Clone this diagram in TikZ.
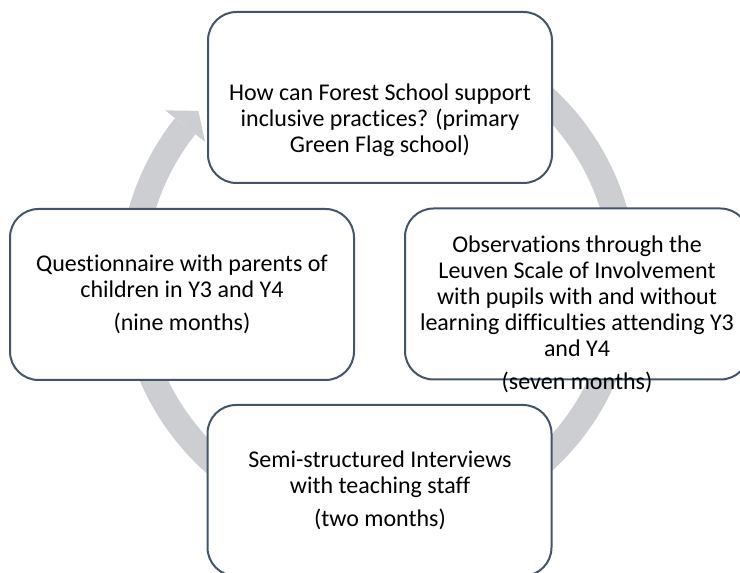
\documentclass[tikz,border=0pt]{standalone}
\usepackage{fontspec}
\setmainfont{Carlito}[Ligatures=NoCommon]
\usetikzlibrary{calc}
\definecolor{ringgrey}{RGB}{205,206,210}
\definecolor{boxline}{RGB}{68,84,106}
\begin{document}
\begin{tikzpicture}[x=1pt,y=1pt,
  box/.style={draw=boxline, line width=2pt, fill=white, rounded corners=28.5pt,
    minimum width=344pt, minimum height=171pt, inner sep=0pt},
  txt/.style={anchor=base, inner sep=0pt, font=\fontsize{24}{26}\selectfont},
  ring/.style={draw=ringgrey, line width=26pt},
  head/.style={fill=ringgrey, draw=none}]
\useasboundingbox (0,0) rectangle (740,573);
\clip (0,0) rectangle (740,573);
\coordinate (c) at (378,294);
% circular arrow
\draw[ring] ($(c)+(70:246)$) arc[start angle=70, end angle=-218.4, radius=246];
\coordinate (hA) at ($(c)+(141.6:220.5)$);
\coordinate (hB) at ($(c)+(141.6:271.5)$);
\coordinate (hT) at ($(c)+(136.9:246)$);
\fill[head] (hA) -- (hB) -- (hT) -- cycle;
% boxes
\node[box] (top) at (380,475.5) {};
\node[box] (left) at (182,278.5) {};
\node[box] (right) at (577,279) {};
\node[box] (bottom) at (379.5,82.5) {};
% texts
\node[txt] (ttop) at (380,472.5) {\begin{tabular}[t]{@{}c@{}}How can Forest School support\\inclusive practices? (primary\\Green Flag school)\end{tabular}};
\node[txt] (tleft) at (182,301.3) {\begin{tabular}[t]{@{}c@{}}Questionnaire with parents of\\children in Y3 and Y4\\[7pt](nine months)\end{tabular}};
\node[txt] (tright) at (577,320) {\begin{tabular}[t]{@{}c@{}}Observations through the\\Leuven Scale of Involvement\\with pupils with and without\\learning difficulties attending Y3\\and Y4\\[7pt](seven months)\end{tabular}};
\node[txt] (tbottom) at (380,105) {\begin{tabular}[t]{@{}c@{}}Semi-structured Interviews\\with teaching staff\\[7pt](two months)\end{tabular}};
\end{tikzpicture}
\end{document}
